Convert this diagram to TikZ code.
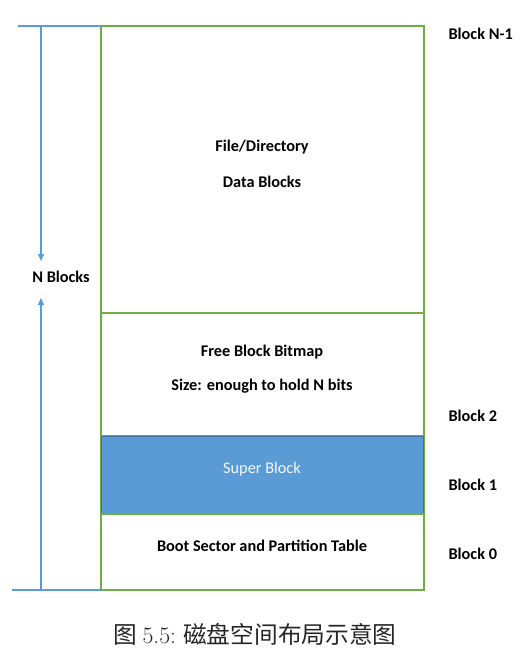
\documentclass[tikz,border=0pt]{standalone}
\usepackage{fontspec}
\setmainfont{Carlito}
\newfontfamily\lmfont{Latin Modern Roman}
\newfontfamily\cjk{Noto Sans CJK SC}
\usetikzlibrary{arrows.meta}
\definecolor{grn}{RGB}{112,173,71}
\definecolor{blu}{RGB}{91,155,213}
\definecolor{bludark}{RGB}{65,113,156}
\tikzset{
  region/.style={draw=grn, line width=1.3pt},
  blabel/.style={font=\fontsize{16.3}{19}\selectfont\bfseries, text=black},
  guide/.style={draw=blu, line width=1.3pt},
  tip/.style={-{Triangle[length=7pt,width=6pt]}}
}
\begin{document}
\begin{tikzpicture}[x=1pt,y=-1pt]
\useasboundingbox (0,0) rectangle (529,655);
% regions
\path[region] (101,26) rectangle (424,313);
\path[region] (101,313) rectangle (424,436);
\path[region, fill=blu, draw=grn] (101,436) rectangle (424,514);
\draw[bludark, line width=0.6pt] (101.6,436.6) rectangle (423.4,513.4);
\path[region] (101,514) rectangle (424,590);
% texts
\node[blabel] (fd) at (262,147) {File/Directory};
\node[blabel] (db) at (262,182) {Data Blocks};
\node[blabel] (fb) at (262,352) {Free Block Bitmap};
\node[blabel] (sz) at (262,386) {Size: enough to hold N bits};
\node[font=\fontsize{16.3}{19}\selectfont, text=white!92!blu] (sb) at (262,469) {Super Block};
\node[blabel] (bs) at (262,546) {Boot Sector and Partition Table};
\node[blabel, anchor=west] (bn1) at (445,34) {Block N-1};
\node[blabel, anchor=west] (b2) at (445,416) {Block 2};
\node[blabel, anchor=west] (b1) at (445,485) {Block 1};
\node[blabel, anchor=west] (b0) at (445,554) {Block 0};
\node[blabel] (nb) at (61,277) {N Blocks};
% guides
\coordinate (tl) at (18,26);
\coordinate (tr) at (101,26);
\coordinate (bl) at (12,590);
\coordinate (br) at (101,590);
\coordinate (vt) at (41,26);
\coordinate (vb) at (41,590);
\coordinate (ad) at (41,261);
\coordinate (au) at (41,298);
\draw[guide] (tl) -- (tr);
\draw[guide] (bl) -- (br);
\draw[guide, tip] (vt) -- (ad);
\draw[guide, tip] (vb) -- (au);
% caption
\node[font=\fontsize{23.7}{28}\selectfont, text=black!85] (cap) at (255,634) {{\cjk 图}\ {\lmfont 5.5:} {\cjk 磁盘空间布局示意图}};
\end{tikzpicture}
\end{document}
